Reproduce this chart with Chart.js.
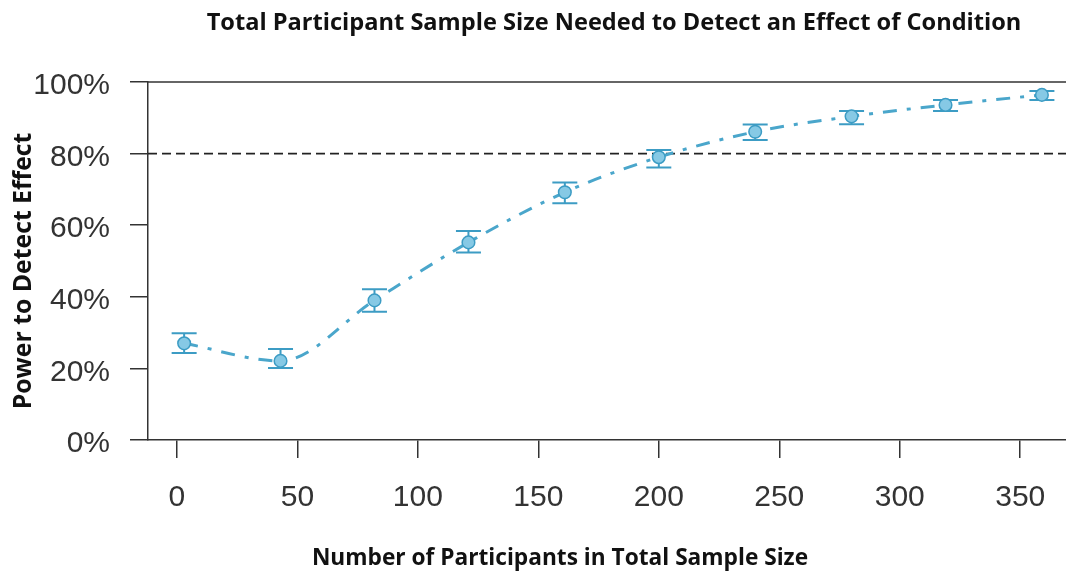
<!DOCTYPE html>
<html>
<head>
<meta charset="utf-8">
<script src="https://cdn.jsdelivr.net/npm/chart.js@4.4.1/dist/chart.umd.min.js"></script>
<style>
  html, body { margin: 0; padding: 0; background: #fff; }
  canvas { display: block; }
</style>
</head>
<body>
<canvas id="powerChart" width="1066" height="575"></canvas>
<script>
// Values
const sampleSizes = [3, 43, 82, 121, 161, 200, 240, 280, 319, 359];
const powerValues = [27.0, 22.1, 39.0, 55.2, 69.2, 79.0, 86.1, 90.4, 93.6, 96.4];
const powerLower  = [24.3, 20.1, 35.8, 52.4, 66.1, 76.1, 83.8, 88.2, 91.9, 95.0];
const powerUpper  = [29.8, 25.4, 42.1, 58.4, 71.9, 81.0, 88.1, 91.9, 95.0, 97.5];
const xTickValues = [0, 50, 100, 150, 200, 250, 300, 350];
const yTickValues = [0, 20, 40, 60, 80, 100];
const targetPower = 80;

const chartTitle = 'Total Participant Sample Size Needed to Detect an Effect of Condition';
const xAxisTitle = 'Number of Participants in Total Sample Size';
const yAxisTitle = 'Power to Detect Effect';

const LINE_COLOR = '#4aa6cb';
const MARKER_FILL = '#86c9e5';
const MARKER_EDGE = '#3c9cc4';
const AXIS_COLOR = '#333';
const TICK_FONT = { family: "'Liberation Sans', Arial, sans-serif", size: 30 };

// dashed 80% target line, drawn under the data
const targetLine = {
    id: 'targetLine',
    beforeDatasetsDraw(chart) {
        const { ctx, chartArea, scales } = chart;
        const y = scales.y.getPixelForValue(targetPower);
        ctx.save();
        ctx.strokeStyle = '#222';
        ctx.lineWidth = 1.8;
        ctx.setLineDash([9, 5]);
        ctx.beginPath();
        ctx.moveTo(chartArea.left, y);
        ctx.lineTo(chartArea.right, y);
        ctx.stroke();
        ctx.restore();
    }
};

// error bars with caps, behind the markers
const errorBars = {
    id: 'errorBars',
    beforeDatasetsDraw(chart) {
        const { ctx, scales } = chart;
        ctx.save();
        ctx.strokeStyle = MARKER_EDGE;
        ctx.lineWidth = 2;
        sampleSizes.forEach((n, i) => {
            const x = scales.x.getPixelForValue(n);
            const yLo = scales.y.getPixelForValue(powerLower[i]);
            const yHi = scales.y.getPixelForValue(powerUpper[i]);
            ctx.beginPath();
            ctx.moveTo(x, yLo); ctx.lineTo(x, yHi);
            ctx.moveTo(x - 12.5, yLo); ctx.lineTo(x + 12.5, yLo);
            ctx.moveTo(x - 12.5, yHi); ctx.lineTo(x + 12.5, yHi);
            ctx.stroke();
        });
        ctx.restore();
    }
};

// top frame line and the three titles
const frameAndTitles = {
    id: 'frameAndTitles',
    afterDraw(chart) {
        const { ctx, chartArea } = chart;
        ctx.save();
        ctx.strokeStyle = AXIS_COLOR;
        ctx.lineWidth = 1.5;
        ctx.beginPath();
        ctx.moveTo(chartArea.left, chartArea.top);
        ctx.lineTo(chartArea.right, chartArea.top);
        ctx.stroke();

        ctx.fillStyle = '#111';
        ctx.textAlign = 'center';
        ctx.textBaseline = 'middle';
        ctx.font = "bold 23.6px 'Open Sans', sans-serif";
        ctx.fillText(chartTitle, 614, 23);
        ctx.font = "bold 22.7px 'Open Sans', sans-serif";
        ctx.fillText(xAxisTitle, 560, 559);

        ctx.font = "bold 24.8px 'Open Sans', sans-serif";
        ctx.translate(24, 271);
        ctx.rotate(-Math.PI / 2);
        ctx.fillText(yAxisTitle, 0, 0);
        ctx.restore();
    }
};

new Chart(document.getElementById('powerChart'), {
    type: 'line',
    data: {
        datasets: [{
            data: sampleSizes.map((n, i) => ({ x: n, y: powerValues[i] })),
            borderColor: LINE_COLOR,
            borderWidth: 3,
            borderDash: [14, 10, 4, 10],
            cubicInterpolationMode: 'monotone',
            fill: false,
            pointRadius: 6.3,
            pointBackgroundColor: MARKER_FILL,
            pointBorderColor: MARKER_EDGE,
            pointBorderWidth: 1.5
        }]
    },
    options: {
        responsive: false,
        animation: false,
        layout: { autoPadding: false, padding: { top: 82, left: 0, right: 0, bottom: 0 } },
        plugins: {
            legend: { display: false },
            tooltip: { enabled: false }
        },
        scales: {
            x: {
                type: 'linear',
                min: -12,
                max: 369,
                afterBuildTicks: s => { s.ticks = xTickValues.map(v => ({ value: v })); },
                afterFit: s => { s.height = 135; s.paddingLeft = 0; s.paddingRight = 0; },
                grid: { drawOnChartArea: false, tickLength: 18, color: AXIS_COLOR, lineWidth: 1.5 },
                border: { color: AXIS_COLOR, width: 1.5 },
                ticks: { font: TICK_FONT, color: AXIS_COLOR, padding: 22, maxRotation: 0 }
            },
            y: {
                min: 0,
                max: 100,
                afterBuildTicks: s => { s.ticks = yTickValues.map(v => ({ value: v })); },
                afterFit: s => { s.width = 148; },
                grid: { drawOnChartArea: false, tickLength: 18, color: AXIS_COLOR, lineWidth: 1.5 },
                border: { color: AXIS_COLOR, width: 1.5 },
                ticks: {
                    font: TICK_FONT,
                    color: AXIS_COLOR,
                    padding: 20,
                    labelOffset: 4,
                    callback: v => v + '%'
                }
            }
        }
    },
    plugins: [targetLine, errorBars, frameAndTitles]
});
</script>
</body>
</html>
